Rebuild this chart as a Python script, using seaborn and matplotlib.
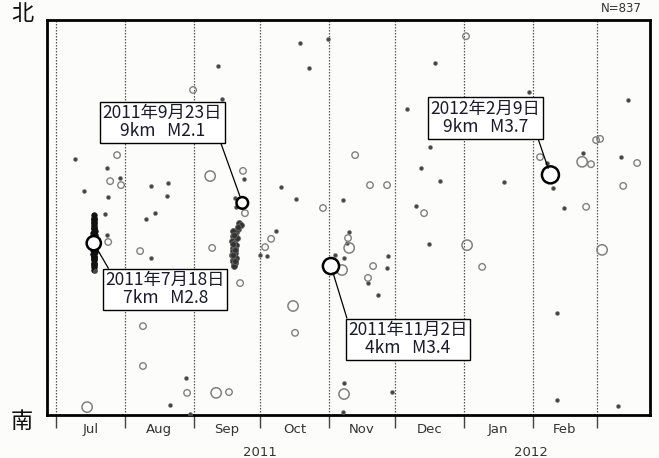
import numpy as np
import pandas as pd
import matplotlib
matplotlib.use('Agg')
import matplotlib.pyplot as plt
import matplotlib.transforms as mtransforms
import seaborn as sns

# x = days since 2011-07-01, y = relative position south (0) -> north (100)
month_starts = [0, 31, 62, 92, 123, 153, 184, 215, 244]
month_names = ['Jul', 'Aug', 'Sep', 'Oct', 'Nov', 'Dec', 'Jan', 'Feb']
year_labels = ['2011', '2012']
year_label_day = [92, 214]

# small filled dots (low magnitude)
dot_day = [8.6, 23.0, 28.9, 12.6, 23.5, 22.1, 23.0, 17.6, 42.9, 50.5, 50.1, 44.7,
           40.6, 42.9, 51.4, 58.6, 60.4, 74.9, 73.1, 84.8, 80.7, 81.2,
           110.1, 114.1, 122.7, 101.5, 108.3, 99.2, 92.0, 95.2,
           129.5, 132.2, 131.3, 129.9, 125.8, 149.8, 149.3, 140.7, 145.2, 129.9, 129.5,
           162.4, 168.2, 171.0, 158.3, 168.7, 164.6, 173.2, 151.6,
           202.1, 213.4, 224.2, 229.1, 237.7, 226.0, 226.0, 221.5,
           258.0, 254.8, 253.5]
dot_lat = [64.8, 62.5, 60.0, 56.7, 55.2, 50.9, 45.6, 36.5, 58.0, 58.7, 55.4, 51.1,
           49.6, 39.7, 2.5, 9.4, 0.3, 80.0, 88.4, 59.7, 54.9, 52.7,
           94.2, 87.8, 95.2, 57.7, 54.7, 46.6, 40.5, 40.3,
           54.4, 46.3, 43.5, 39.7, 40.5, 40.3, 37.2, 33.4, 30.4, 8.1, 0.8,
           52.9, 43.3, 89.1, 77.5, 67.8, 62.5, 59.2, 5.8,
           59.0, 81.8, 57.5, 52.4, 66.3, 25.8, 3.8, 63.8,
           79.7, 65.3, 2.3]

# small open circles
ring_day = [24.4, 29.3, 27.5, 23.5, 37.9, 39.2, 39.2, 59.1, 61.8, 84.3, 85.2, 70.4,
            83.0, 78.0, 97.0, 94.3, 120.4, 131.7, 143.0, 140.7, 166.0, 192.2, 184.9,
            107.8, 218.3, 241.3, 243.6, 245.4, 239.1, 262.1, 255.8, 134.9, 141.6, 149.3]
ring_lat = [59.2, 58.2, 65.8, 43.8, 41.5, 22.5, 12.4, 5.6, 82.3, 61.8, 51.1, 42.3,
            33.4, 5.8, 44.6, 42.5, 52.4, 44.8, 37.7, 34.7, 51.1, 37.5, 95.9,
            20.8, 65.3, 63.5, 69.6, 69.9, 52.7, 63.8, 58.0, 65.8, 58.2, 58.2]

# medium open circles
big_day = [14.0, 69.5, 72.2, 106.9, 132.2, 129.0, 129.9, 185.4, 237.3, 246.3]
big_lat = [2.0, 60.5, 5.6, 27.6, 42.3, 36.7, 5.3, 43.0, 64.1, 41.8]

# swarms (dense clusters)
jul_swarm_day = [17.1, 17.2, 17.0, 17.2, 17.0, 17.3, 16.9, 17.4, 16.8, 17.5, 16.6, 17.6,
                 16.7, 17.5, 16.6, 17.7, 16.7, 17.4, 16.8, 17.3, 17.0, 17.2, 16.9, 17.1,
                 17.0, 16.7, 17.5, 16.9, 17.3, 17.1, 17.2, 16.9, 17.0, 17.2, 16.8, 17.4,
                 17.1, 16.9, 17.3, 17.0]
jul_swarm_lat = [50.6, 50.0, 49.4, 48.8, 48.2, 47.6, 47.0, 46.5, 46.0, 45.5, 45.0, 44.5,
                 44.0, 43.4, 42.8, 42.3, 41.8, 41.3, 40.8, 40.3, 39.8, 39.2, 38.6, 38.0,
                 37.4, 43.6, 44.2, 41.0, 40.0, 36.8, 49.7, 48.5, 47.3, 46.2, 45.3, 44.8,
                 42.5, 39.4, 38.3, 41.5]
sep_swarm_day = [82.6, 83.3, 82.0, 81.2, 80.5, 79.8, 80.9, 79.4, 80.2, 81.0, 79.6, 80.6,
                 79.9, 80.8, 79.5, 80.3, 81.3, 80.0, 79.7, 80.7, 80.1, 81.5, 79.8, 80.4,
                 82.2, 80.6, 80.0, 80.9, 79.6, 80.3]
sep_swarm_lat = [48.6, 48.0, 47.0, 46.3, 45.8, 45.2, 44.6, 44.0, 43.5, 43.0, 42.4, 42.0,
                 41.5, 41.0, 40.6, 40.1, 39.7, 39.3, 38.9, 38.5, 38.1, 44.9, 46.6, 37.6,
                 47.6, 39.0, 43.2, 41.8, 40.4, 45.6]

# highlighted events
ev_day = [17, 84, 124, 223]
ev_lat = [43.5, 53.7, 37.7, 60.8]
ev_mag = [2.8, 2.1, 3.4, 3.7]
ev_text = ['2011年7月18日\n7km   M2.8', '2011年9月23日\n9km   M2.1',
           '2011年11月2日\n4km   M3.4', '2012年2月9日\n9km   M3.7']
ev_box_day = [49.2, 48.0, 158.8, 193.7]
ev_box_lat = [31.8, 74.1, 19.2, 75.2]
ev_relpos = [(0.04, 1.0), (0.98, 0.0), (0.0, 0.95), (0.97, 0.0)]

sns.set_theme(style='white')
plt.rcParams['font.family'] = ['Noto Sans CJK JP', 'DejaVu Sans']

fig = plt.figure(figsize=(6.59, 4.58), dpi=100)
fig.patch.set_facecolor('#fcfcfa')
ax = fig.add_axes([0.0713, 0.0939, 0.915, 0.8624])
ax.set_facecolor('#fcfcfa')

for d in month_starts:
    ax.axvline(d, color='#555555', lw=0.9, ls=(0, (1.2, 1.2)), zorder=1)

dots = pd.DataFrame({'day': dot_day, 'lat': dot_lat})
rings = pd.DataFrame({'day': ring_day, 'lat': ring_lat})
bigs = pd.DataFrame({'day': big_day, 'lat': big_lat})
jul = pd.DataFrame({'day': jul_swarm_day, 'lat': jul_swarm_lat})
sep = pd.DataFrame({'day': sep_swarm_day, 'lat': sep_swarm_lat})
events = pd.DataFrame({'day': ev_day, 'lat': ev_lat, 'mag': ev_mag})

sns.scatterplot(data=jul, x='day', y='lat', ax=ax, s=16, color='#111111',
                edgecolor='#111111', linewidth=0.5, zorder=3, legend=False)
sns.scatterplot(data=sep, x='day', y='lat', ax=ax, s=18, color='#333333',
                edgecolor='#666666', linewidth=0.6, zorder=3, legend=False)
sns.scatterplot(data=dots, x='day', y='lat', ax=ax, s=8, color='#444444',
                edgecolor='#777777', linewidth=0.4, zorder=3, legend=False)
sns.scatterplot(data=rings, x='day', y='lat', ax=ax, s=22, facecolor='none',
                edgecolor='#808080', linewidth=1.0, zorder=3, legend=False)
sns.scatterplot(data=bigs, x='day', y='lat', ax=ax, s=55, facecolor='none',
                edgecolor='#808080', linewidth=1.1, zorder=3, legend=False)
sns.scatterplot(data=events, x='day', y='lat', ax=ax, size='mag', sizes=(70, 150),
                size_norm=(2.1, 3.7), color='white', edgecolor='black',
                linewidth=1.8, zorder=5, legend=False)

for i in range(len(ev_day)):
    ax.annotate(ev_text[i], xy=(ev_day[i], ev_lat[i]),
                xytext=(ev_box_day[i], ev_box_lat[i]), textcoords='data',
                ha='center', va='center', multialignment='center',
                fontsize=12.5, color='#1a1a2a', linespacing=1.0, zorder=6,
                bbox=dict(boxstyle='square,pad=0.15', fc='white', ec='black', lw=1.0),
                arrowprops=dict(arrowstyle='-', color='black', lw=0.9,
                                shrinkA=0, shrinkB=5, relpos=ev_relpos[i]))

ax.set_xlim(-4.1, 267.9)
ax.set_ylim(0, 100)
ax.set_xlabel('')
ax.set_ylabel('')
ax.set_yticks([])

ax.set_xticks(month_starts)
ax.set_xticklabels([''] * len(month_starts))
ax.tick_params(axis='x', which='major', direction='out', length=9, width=1.0,
               color='#444444', bottom=True)
mids = [(month_starts[i] + month_starts[i + 1]) / 2 for i in range(len(month_names))]
ax.set_xticks(mids, minor=True)
ax.set_xticklabels(month_names, minor=True, fontsize=9.5, color='#333333',
                   family='DejaVu Sans')
ax.tick_params(axis='x', which='minor', length=0, pad=6)

for sp in ax.spines.values():
    sp.set_visible(True)
    sp.set_color('black')
    sp.set_linewidth(2.0)

trans = mtransforms.blended_transform_factory(ax.transData, ax.transAxes)
for lab, d in zip(year_labels, year_label_day):
    ax.text(d, -0.095, lab, transform=trans, ha='center', va='center',
            fontsize=9.5, color='#333333', family='DejaVu Sans')

fig.text(22 / 659, 1 - 14 / 458, '北', ha='center', va='center', fontsize=16,
         color='#111111')
fig.text(22 / 659, 1 - 421 / 458, '南', ha='center', va='center', fontsize=16,
         color='#111111')
fig.text(621 / 659, 1 - 9 / 458, 'N=837', ha='center', va='center', fontsize=8.5,
         color='#333333', family='DejaVu Sans')

fig.savefig('out.png', dpi=100, facecolor=fig.get_facecolor())
